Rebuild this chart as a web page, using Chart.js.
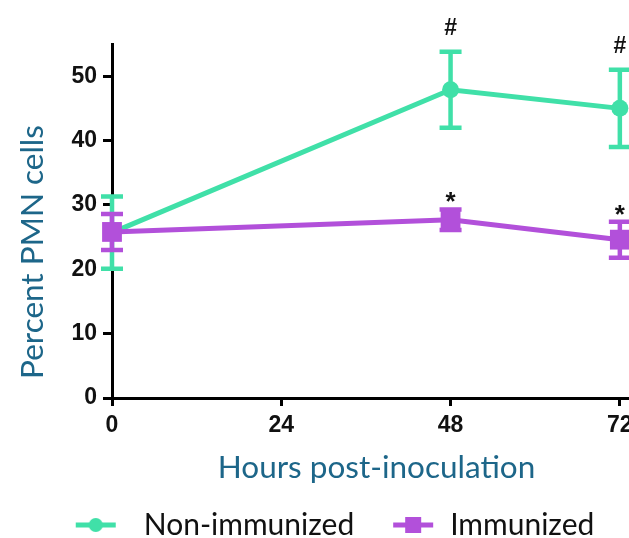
<!DOCTYPE html>
<html>
<head>
<meta charset="utf-8">
<script src="https://cdn.jsdelivr.net/npm/chart.js@4.4.1/dist/chart.umd.min.js"></script>
<style>
  html, body { margin: 0; padding: 0; background: #fff; overflow: hidden; }
  #wrap { position: relative; width: 629px; height: 538px; overflow: hidden; }
  #inner { position: absolute; left: 0; top: 0; width: 641px; height: 538px; }
  canvas { display: block; }
</style>
</head>
<body>
<div id="wrap"><div id="inner"><canvas id="pmnChart" width="641" height="538"></canvas></div></div>
<script>
const hours = [0, 48, 72];
const xTicks = [0, 24, 48, 72];
const yTicks = [0, 10, 20, 30, 40, 50];

const nonImmunized = [25.7, 47.9, 45.0];
const nonImmunizedSem = [5.6, 5.9, 6.0];
const nonImmunizedMarks = ["", "#", "#"];

const immunized = [25.8, 27.7, 24.6];
const immunizedSem = [2.8, 1.6, 2.8];
const immunizedMarks = ["", "*", "*"];

const GREEN = "#40e0a8";
const PURPLE = "#b250da";
const TITLE_BLUE = "#1d6689";
const TEXT_FONT = "Lato";
const TITLE_SIZE = 31.5;
const LEGEND_SIZE = 30;
const TICK_FONT = { family: "Liberation Sans", size: 23, weight: "bold" };

// legend icon: short line with the series marker in the middle
function legendIcon(color, style, lineStart) {
  const c = document.createElement("canvas");
  c.width = 70;
  c.height = 20;
  const g = c.getContext("2d");
  g.strokeStyle = color;
  g.fillStyle = color;
  g.lineWidth = 5;
  g.beginPath();
  g.moveTo(lineStart, 10);
  g.lineTo(lineStart + 40, 10);
  g.stroke();
  const cx = lineStart + 20;
  if (style === "circle") {
    g.beginPath();
    g.arc(cx, 10, 7, 0, Math.PI * 2);
    g.fill();
  } else {
    g.fillRect(cx - 8, 2, 16, 16);
  }
  return c;
}
const legendIcons = [legendIcon(GREEN, "circle", 17), legendIcon(PURPLE, "rect", 28)];

const errorBars = {
  id: "errorBars",
  beforeDatasetsDraw(chart) {
    const { ctx, scales: { x, y } } = chart;
    chart.data.datasets.forEach((ds) => {
      ctx.save();
      ctx.strokeStyle = ds.borderColor;
      ctx.lineWidth = 4.5;
      ds.errors.forEach((err, i) => {
        const px = x.getPixelForValue(ds.data[i].x);
        const hi = y.getPixelForValue(ds.data[i].y + err);
        const lo = y.getPixelForValue(ds.data[i].y - err);
        ctx.beginPath();
        ctx.moveTo(px, hi);
        ctx.lineTo(px, lo);
        ctx.moveTo(px - 11, hi);
        ctx.lineTo(px + 11, hi);
        ctx.moveTo(px - 11, lo);
        ctx.lineTo(px + 11, lo);
        ctx.stroke();
      });
      ctx.restore();
    });
  },
  afterDatasetsDraw(chart) {
    // significance symbols above the error bars
    const { ctx, scales: { x, y } } = chart;
    chart.data.datasets.forEach((ds) => {
      ctx.save();
      ctx.fillStyle = "#111";
      ctx.textAlign = "center";
      ctx.textBaseline = "alphabetic";
      ds.marks.forEach((m, i) => {
        if (!m) return;
        const px = x.getPixelForValue(ds.data[i].x);
        const hi = y.getPixelForValue(ds.data[i].y + ds.errors[i]);
        if (m === "#") {
          ctx.font = "bold 23px 'Liberation Sans'";
          ctx.fillText(m, px, hi - 17);
        } else {
          ctx.font = "bold 26px 'Liberation Sans'";
          ctx.fillText(m, px, hi + 1);
        }
      });
      ctx.restore();
    });
  },
  afterDraw(chart) {
    // vertical axis title
    const { ctx } = chart;
    ctx.save();
    ctx.translate(33, 252);
    ctx.rotate(-Math.PI / 2);
    ctx.font = TITLE_SIZE + "px " + TEXT_FONT;
    ctx.fillStyle = TITLE_BLUE;
    ctx.textAlign = "center";
    ctx.textBaseline = "middle";
    ctx.fillText("Percent PMN cells", 0, 0);
    ctx.restore();
  },
};

new Chart(document.getElementById("pmnChart"), {
  type: "line",
  data: {
    datasets: [
      {
        label: "Non-immunized",
        data: hours.map((h, i) => ({ x: h, y: nonImmunized[i] })),
        errors: nonImmunizedSem,
        marks: nonImmunizedMarks,
        borderColor: GREEN,
        backgroundColor: GREEN,
        borderWidth: 5,
        pointStyle: "circle",
        pointRadius: 8.5,
        pointBorderWidth: 0,
        clip: false,
        order: 2,
      },
      {
        label: "Immunized",
        data: hours.map((h, i) => ({ x: h, y: immunized[i] })),
        errors: immunizedSem,
        marks: immunizedMarks,
        borderColor: PURPLE,
        backgroundColor: PURPLE,
        borderWidth: 5,
        pointStyle: "rect",
        pointRadius: 14,
        pointBorderWidth: 0,
        clip: false,
        order: 1,
      },
    ],
  },
  options: {
    responsive: false,
    devicePixelRatio: 1,
    animation: false,
    layout: { autoPadding: false, padding: { top: 44, left: 12, right: 0, bottom: -12 } },
    scales: {
      x: {
        type: "linear",
        min: 0,
        max: 75,
        afterBuildTicks: (s) => { s.ticks = xTicks.map((v) => ({ value: v })); },
        afterFit: (s) => {
          s.height = 101;
          s.paddingLeft = 0;
          s.paddingRight = 0;
        },
        border: { display: true, color: "#000", width: 3 },
        grid: { display: true, drawOnChartArea: false, drawTicks: true, tickLength: 8, lineWidth: 3, color: "#000" },
        ticks: { color: "#111", font: TICK_FONT, padding: 6 },
        title: {
          display: true,
          text: "Hours post-inoculation",
          color: TITLE_BLUE,
          font: { family: TEXT_FONT, size: TITLE_SIZE },
          padding: { top: 0, bottom: 12 },
        },
      },
      y: {
        min: 0,
        max: 55,
        afterBuildTicks: (s) => { s.ticks = yTicks.map((v) => ({ value: v })); },
        afterFit: (s) => { s.width = 100; },
        border: { display: true, color: "#000", width: 3 },
        grid: { display: true, drawOnChartArea: false, drawTicks: true, tickLength: 9, lineWidth: 3, color: "#000" },
        ticks: { color: "#111", font: TICK_FONT, padding: 6 },
      },
    },
    plugins: {
      tooltip: { enabled: false },
      legend: {
        position: "bottom",
        labels: {
          usePointStyle: true,
          pointStyleWidth: 70,
          padding: 11,
          color: "#111",
          font: { family: TEXT_FONT, size: LEGEND_SIZE },
          generateLabels: (chart) =>
            chart.data.datasets.map((ds, i) => ({
              text: ds.label,
              datasetIndex: i,
              pointStyle: legendIcons[i],
              fillStyle: "transparent",
              strokeStyle: "transparent",
              lineWidth: 0,
              fontColor: "#111",
              hidden: false,
            })),
        },
      },
    },
  },
  plugins: [errorBars],
});
</script>
</body>
</html>
